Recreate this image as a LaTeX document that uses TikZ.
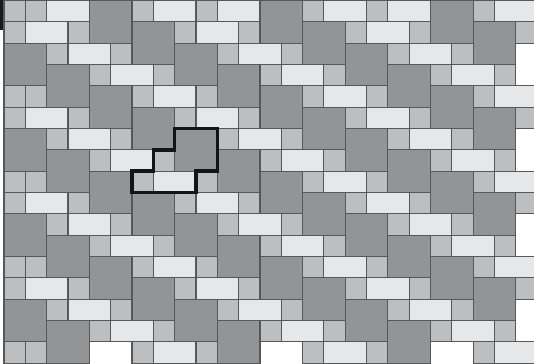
\documentclass[tikz,border=0pt]{standalone}
\definecolor{bigc}{HTML}{939496}
\definecolor{smallc}{HTML}{BDBEC0}
\definecolor{rectc}{HTML}{E6E7E8}
\definecolor{edgec}{HTML}{575757}
\tikzset{
  piece/.style={draw=edgec, line width=1.5pt},
  bigsq/.style={piece, fill=bigc},
  smallsq/.style={piece, fill=smallc},
  longrect/.style={piece, fill=rectc},
  outline/.style={draw=black!92, line width=4.6pt, line join=miter}
}
\begin{document}
\begin{tikzpicture}[x=1cm,y=-1cm]
\useasboundingbox (-0.1875,-0.023) rectangle (24.85,17.04);
\fill[white] (-0.1875,-0.023) rectangle (24.85,17.04);
\foreach \X in {0,2,...,26} {
  \pgfmathtruncatemacro\a{(\X-4)/2}
  \pgfmathtruncatemacro\off{mod(mod(\a,4)+4,4)}
  \foreach \k in {-1,...,4} {
    \pgfmathtruncatemacro\Y{\off+4*\k}
    \pgfmathtruncatemacro\cA{\X-1}
    \pgfmathtruncatemacro\rA{\Y+1}
    \pgfmathtruncatemacro\cB{\X-2}
    \pgfmathtruncatemacro\rB{\Y+2}
    \pgfmathtruncatemacro\Xb{\X+2}
    \pgfmathtruncatemacro\Yb{\Y+2}
    % large square
    \ifnum\Y>-1 \ifnum\Yb<18 \ifnum\Xb<26
      \path[bigsq] (\X,\Y) rectangle (\Xb,\Yb);
    \fi\fi\fi
    \ifnum\Y=-1 \ifnum\X<24
      \path[longrect] (\X,0) rectangle (\Xb,1);
    \fi\fi
    % first small square
    \ifnum\cA>-1 \ifnum\cA<25 \ifnum\rA>-1 \ifnum\rA<17
      \path[smallsq] (\cA,\rA) rectangle ++(1,1);
    \fi\fi\fi\fi
    % second small square
    \ifnum\cB>-1 \ifnum\cB<25 \ifnum\rB>-1 \ifnum\rB<17
      \path[smallsq] (\cB,\rB) rectangle ++(1,1);
    \fi\fi\fi\fi
    % rectangle
    \ifnum\rB>-1 \ifnum\rB<17
      \ifnum\cA=-1
        \path[smallsq] (0,\rB) rectangle ++(1,1);
      \fi
      \ifnum\cA>-1 \ifnum\cA<25
        \path[longrect] (\cA,\rB) rectangle ++(2,1);
      \fi\fi
    \fi\fi
  }
}
\path[outline] (8,6) -- (10,6) -- (10,8) -- (9,8) -- (9,9) -- (6,9) -- (6,8) -- (7,8) -- (7,7) -- (8,7) -- cycle;
\fill[black!90] (-0.1875,-0.023) rectangle (-0.04,1.4);
\end{tikzpicture}
\end{document}
